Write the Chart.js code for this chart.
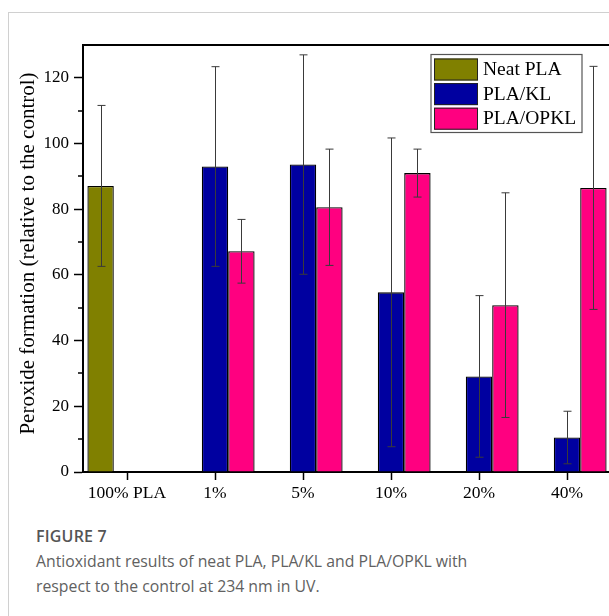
<!DOCTYPE html>
<html>
<head>
<meta charset="utf-8">
<script src="https://cdn.jsdelivr.net/npm/chart.js@4"></script>
<style>
html,body{margin:0;padding:0;background:#fff;overflow:hidden;width:609px;height:616px;}
#card{position:absolute;left:8px;top:12px;width:700px;height:700px;border-left:1px solid #d0d0d0;border-top:1px solid #d0d0d0;}
#wrap{position:absolute;left:0;top:0;width:620px;height:520px;}
#cap{position:absolute;left:36px;top:524px;font-family:'Open Sans',sans-serif;color:#616161;font-size:15.8px;line-height:25px;}
#cap b{font-weight:600;color:#555;font-size:16px;letter-spacing:0.2px;}
</style>
</head>
<body>
<div id="card"></div>
<div id="wrap"><canvas id="c" width="620" height="520"></canvas></div>
<div id="cap"><b>FIGURE 7</b><br>Antioxidant results of neat PLA, PLA/KL and PLA/OPKL with<br>respect to the control at 234 nm in UV.</div>
<script>
const categories = ['100% PLA', '1%', '5%', '10%', '20%', '40%'];
const seriesNames = ['Neat PLA', 'PLA/KL', 'PLA/OPKL'];
const neatPLA    = [87.1, null, null, null, null, null];
const neatPLAErr = [24.5, null, null, null, null, null];
const plaKL      = [null, 93.0, 93.6, 54.7, 29.1, 10.5];
const plaKLErr   = [null, 30.4, 33.4, 47.0, 24.6, 8.0];
const plaOPKL    = [null, 67.2, 80.6, 91.0, 50.8, 86.5];
const plaOPKLErr = [null, 9.7, 17.7, 7.3, 34.2, 37.0];
const yTitle = 'Peroxide formation (relative to the control)';
const minorTicks = [10, 30, 50, 70, 90, 110];

const colors = ['#808000', '#0000A0', '#FF0080'];
const serif = "'Liberation Serif','Times New Roman',serif";

const errorBars = {
  id: 'errorBars',
  afterDatasetsDraw(chart) {
    const ctx = chart.ctx, y = chart.scales.y;
    ctx.save();
    ctx.strokeStyle = '#3a3a3a';
    ctx.lineWidth = 1;
    chart.data.datasets.forEach((ds, i) => {
      const meta = chart.getDatasetMeta(i);
      meta.data.forEach((el, j) => {
        const v = ds.data[j], e = ds.errors[j];
        if (v == null || e == null) return;
        const x = Math.round(el.x) + 0.5;
        const yt = y.getPixelForValue(v + e), yb = y.getPixelForValue(v - e);
        ctx.beginPath();
        ctx.moveTo(x, yt); ctx.lineTo(x, yb);
        ctx.moveTo(x - 4, yt); ctx.lineTo(x + 4, yt);
        ctx.moveTo(x - 4, yb); ctx.lineTo(x + 4, yb);
        ctx.stroke();
      });
    });
    ctx.restore();
  }
};

const frameAndExtras = {
  id: 'frameAndExtras',
  afterDraw(chart) {
    const ctx = chart.ctx, a = chart.chartArea, y = chart.scales.y;
    ctx.save();
    ctx.strokeStyle = '#000';
    ctx.lineWidth = 2;
    ctx.beginPath();
    ctx.moveTo(a.left - 1, a.top); ctx.lineTo(a.right, a.top); ctx.lineTo(a.right, a.bottom);
    ctx.stroke();
    ctx.lineWidth = 1.5;
    ctx.beginPath();
    minorTicks.forEach(v => {
      const py = Math.round(y.getPixelForValue(v));
      ctx.moveTo(a.left - 5, py); ctx.lineTo(a.left, py);
    });
    ctx.stroke();
    ctx.fillStyle = '#000';
    ctx.font = '21px ' + serif;
    ctx.textAlign = 'center';
    ctx.textBaseline = 'middle';
    ctx.translate(28.5, (a.top + a.bottom) / 2 - 5);
    ctx.rotate(-Math.PI / 2);
    ctx.fillText(yTitle, 0, 0);
    ctx.restore();
    ctx.save();
    const lx = a.left + 348, ly = a.top + 9.5, lw = 151, lh = 78;
    ctx.fillStyle = '#fff';
    ctx.fillRect(lx, ly, lw, lh);
    ctx.strokeStyle = '#555';
    ctx.lineWidth = 1.2;
    ctx.strokeRect(lx, ly, lw, lh);
    ctx.font = '19.5px ' + serif;
    ctx.textBaseline = 'middle';
    ctx.textAlign = 'left';
    chart.data.datasets.forEach((ds, i) => {
      const ry = ly + 4 + i * 24.6;
      ctx.fillStyle = ds.backgroundColor;
      ctx.fillRect(lx + 3, ry, 44, 22);
      ctx.strokeStyle = '#222';
      ctx.lineWidth = 1;
      ctx.strokeRect(lx + 3.5, ry + 0.5, 43, 21);
      ctx.fillStyle = '#000';
      ctx.fillText(ds.label, lx + 52, ry + 11.5);
    });
    ctx.restore();
  }
};

const mk = (i, data, err) => ({
  label: seriesNames[i], data, errors: err,
  backgroundColor: colors[i], borderColor: '#000', borderWidth: 1.3,
  categoryPercentage: 0.9, barPercentage: 1.0
});

new Chart(document.getElementById('c'), {
  type: 'bar',
  data: {
    labels: categories,
    datasets: [mk(0, neatPLA, neatPLAErr), mk(1, plaKL, plaKLErr), mk(2, plaOPKL, plaOPKLErr)]
  },
  options: {
    responsive: false,
    animation: false,
    devicePixelRatio: 1,
    layout: { padding: { left: 0, top: 45, right: 9, bottom: 0 } },
    plugins: { legend: { display: false }, tooltip: { enabled: false } },
    scales: {
      x: {
        offset: true,
        grid: { display: true, drawOnChartArea: false, drawTicks: true, tickLength: 8, tickColor: '#000', tickWidth: 1.5, offset: false },
        border: { display: true, color: '#000', width: 2 },
        ticks: { color: '#000', font: { family: serif, size: 17.5 }, padding: 3, maxRotation: 0, autoSkip: false },
        afterFit: s => { s.height = 48; }
      },
      y: {
        min: 0, max: 130,
        grid: { display: true, drawOnChartArea: false, drawTicks: true, tickLength: 9, tickColor: '#000', tickWidth: 1.5 },
        border: { display: true, color: '#000', width: 2 },
        ticks: { stepSize: 20, includeBounds: false, color: '#000', font: { family: serif, size: 17 }, padding: 5 },
        afterFit: s => { s.width = 83; }
      }
    }
  },
  plugins: [errorBars, frameAndExtras]
});
</script>
</body>
</html>
